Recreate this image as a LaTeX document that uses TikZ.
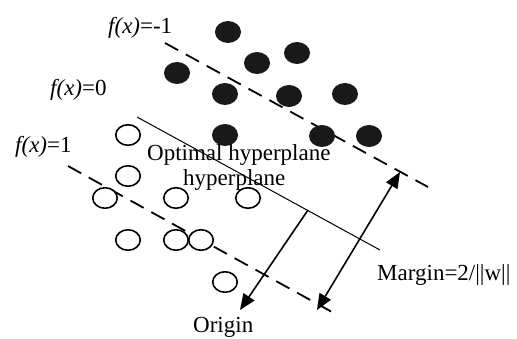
\documentclass[tikz,border=0pt]{standalone}
\usepackage{fontspec}
\setmainfont{Liberation Serif}
\usetikzlibrary{arrows.meta,shapes.geometric}
\begin{document}
\begin{tikzpicture}[x=1pt,y=-1pt,
  lbl/.style={anchor=base west,inner sep=0pt,font=\fontsize{23}{27}\selectfont},
  fdot/.style={ellipse,fill=black!90,minimum width=26pt,minimum height=22pt,inner sep=0pt},
  odot/.style={ellipse,draw=black,line width=1.6pt,fill=white,minimum width=24.5pt,minimum height=20.5pt,inner sep=0pt},
  dline/.style={line width=1.8pt,dash pattern=on 15pt off 8.8pt},
  sline/.style={line width=1pt},
  arr/.style={line width=1.6pt,-{Triangle[length=16pt,width=13pt]}},
  darr/.style={line width=1.6pt,{Triangle[length=16pt,width=13pt]}-{Triangle[length=16pt,width=13pt]}}]
\useasboundingbox (0,0) rectangle (517,338);
% lines
\coordinate (t1) at (165,43);
\coordinate (t2) at (428,187);
\coordinate (s1) at (137,117);
\coordinate (s2) at (380,250);
\coordinate (b1) at (68,166);
\coordinate (b2) at (332,312);
\draw[dline] (t1) -- (t2);
\draw[sline] (s1) -- (s2);
\draw[dline] (b1) -- (b2);
% filled dots
\foreach \n/\p in {a/{(228,32)},b/{(257,63)},c/{(297,53)},d/{(177,73)},e/{(225,94)},f/{(289,96)},g/{(345,94)},h/{(225,135)},i/{(322,136)},j/{(369,136)}}
  \node[fdot] (f\n) at \p {};
% open circles
\foreach \n/\p in {a/{(128,135)},b/{(128,176)},c/{(105,198)},d/{(176,198)},e/{(248,198)},f/{(128,240)},g/{(176,240)},h/{(201,240)},i/{(225,282)}}
  \node[odot] (o\n) at \p {};
% arrows
\coordinate (p1) at (308,210);
\coordinate (origin) at (240,310);
\coordinate (m1) at (317,310);
\coordinate (m2) at (400,172);
\draw[arr] (p1) -- (origin);
\draw[darr] (m1) -- (m2);
% labels
\node[lbl] (l1) at (108,33) {\textit{f(x)}=-1};
\node[lbl] (l0) at (50,95) {\textit{f(x)}=0};
\node[lbl] (lm1) at (15,152) {\textit{f(x)}=1};
\node[lbl] (opt) at (147,160) {Optimal hyperplane};
\node[lbl] (hyp) at (183,185) {hyperplane};
\node[lbl] (mar) at (377,280) {Margin=2/||w||};
\node[lbl] (ori) at (193,332) {Origin};
\end{tikzpicture}
\end{document}
